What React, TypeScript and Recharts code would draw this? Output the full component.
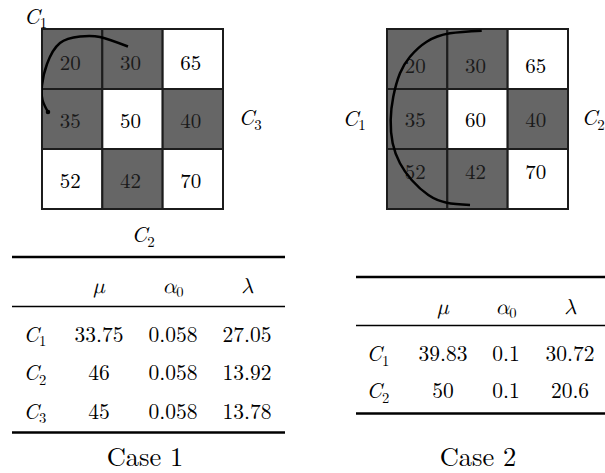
import React from 'react';
import { ScatterChart, Scatter, XAxis, YAxis, ReferenceArea } from 'recharts';

const FONT =
  '"Latin Modern Roman", "CMU Serif", "Computer Modern", "Liberation Serif", "DejaVu Serif", "Noto Serif", "FreeSerif", "Nimbus Roman", "Tinos", "Times New Roman", Times, Georgia, serif';
const GREEK =
  '"CMU Serif", "Latin Modern Math", "STIX Two Math", "STIX Two Text", "STIXGeneral", "DejaVu Serif", "Liberation Serif", "FreeSerif", "Noto Serif", "Latin Modern Roman", serif';

// Grid values (row by row) and which cells are shaded
const case1Values = [
  [20, 30, 65],
  [35, 50, 40],
  [52, 42, 70],
];
const case1Shaded = [
  [1, 1, 0],
  [1, 0, 1],
  [0, 1, 0],
];
const case2Values = [
  [20, 30, 65],
  [35, 60, 40],
  [52, 42, 70],
];
const case2Shaded = [
  [1, 1, 0],
  [1, 0, 1],
  [1, 1, 0],
];

// Arc traced over the grid (grid units: column, row)
const case1Arc = [
  { x: 1.425, y: 0.292 },
  { x: 0.961, y: 0.133 },
  { x: 0.63, y: 0.125 },
  { x: 0.298, y: 0.233 },
  { x: 0.083, y: 0.583 },
  { x: 0.0, y: 0.933 },
  { x: 0.008, y: 1.183 },
  { x: 0.099, y: 1.383, dot: true },
];
const case2Arc = [
  { x: 1.57, y: 0.028 },
  { x: 1.044, y: 0.072 },
  { x: 0.658, y: 0.212 },
  { x: 0.381, y: 0.462 },
  { x: 0.215, y: 0.738 },
  { x: 0.104, y: 1.128 },
  { x: 0.061, y: 1.517 },
  { x: 0.094, y: 1.905 },
  { x: 0.215, y: 2.238 },
  { x: 0.409, y: 2.517 },
  { x: 0.685, y: 2.767 },
  { x: 0.99, y: 2.895 },
  { x: 1.376, y: 2.933 },
];

// Table data
const case1RowLabels = ['1', '2', '3'];
const case1Mu = [33.75, 46, 45];
const case1Alpha = [0.058, 0.058, 0.058];
const case1Lambda = [27.05, 13.92, 13.78];

const case2RowLabels = ['1', '2'];
const case2Mu = [39.83, 50];
const case2Alpha = [0.1, 0.1];
const case2Lambda = [30.72, 20.6];

const captions = ['Case 1', 'Case 2'];

const serif = (size: number, italic = false, family = FONT): React.CSSProperties => ({
  fontFamily: family,
  fontSize: size,
  fontStyle: italic ? 'italic' : 'normal',
});

type GridProps = {
  values: number[][];
  shaded: number[][];
  arc: { x: number; y: number; dot?: boolean }[];
  labelDy: number[];
};

function Grid({ values, shaded, arc, labelDy }: GridProps) {
  const cells = values.flatMap((row, r) =>
    row.map((v, c) => ({ x: c + 0.5, y: r + 0.5, c, r, v, dark: shaded[r][c] === 1 }))
  );
  return (
    <ScatterChart width={260} height={240} margin={{ top: 29, left: 42, right: 37, bottom: 31 }}>
      <XAxis type="number" dataKey="x" domain={[0, 3]} hide allowDataOverflow />
      <YAxis type="number" dataKey="y" domain={[0, 3]} reversed hide allowDataOverflow />
      {cells.map((cell) => (
        <ReferenceArea
          key={`a${cell.r}-${cell.c}`}
          x1={cell.c}
          x2={cell.c + 1}
          y1={cell.r}
          y2={cell.r + 1}
          fill={cell.dark ? '#666666' : '#ffffff'}
          fillOpacity={1}
          stroke="#1c1c1c"
          strokeWidth={2}
          strokeOpacity={1}
        />
      ))}
      <Scatter
        data={cells}
        isAnimationActive={false}
        shape={(p: any) => (
          <text
            x={p.cx - 2}
            y={p.cy + 7 + labelDy[p.payload.r]}
            textAnchor="middle"
            style={serif(21)}
            fill={p.payload.dark ? '#1a1a1a' : '#000'}
          >
            {p.payload.v}
          </text>
        )}
      />
      <Scatter
        data={arc}
        isAnimationActive={false}
        fill="none"
        line={{ stroke: '#000', strokeWidth: 2.5, fill: 'none' }}
        lineType="joint"
        lineJointType="natural"
        shape={(p: any) =>
          p.payload.dot ? <circle cx={p.cx} cy={p.cy} r={2.3} fill="#000" /> : <g />
        }
      />
    </ScatterChart>
  );
}

const Sym = ({ x, y, base, sub, size = 22 }: { x: number; y: number; base: string; sub: string; size?: number }) => (
  <text x={x} y={y} style={serif(size)} fill="#000">
    <tspan style={serif(size, true)}>{base}</tspan>
    <tspan style={serif(size * 0.68)} dy={4.5}>
      {sub}
    </tspan>
  </text>
);

type TableProps = {
  x0: number;
  x1: number;
  cols: number[];
  rowLabelX: number;
  rules: number[];
  headerY: number;
  rowYs: number[];
  labels: string[];
  mu: number[];
  alpha: number[];
  lambda: number[];
};

function Table({ x0, x1, cols, rowLabelX, rules, headerY, rowYs, labels, mu, alpha, lambda }: TableProps) {
  const fs = 21.5;
  return (
    <g>
      <line x1={x0} x2={x1} y1={rules[0]} y2={rules[0]} stroke="#000" strokeWidth={2.6} />
      <line x1={x0} x2={x1} y1={rules[1]} y2={rules[1]} stroke="#000" strokeWidth={1.7} />
      <line x1={x0} x2={x1} y1={rules[2]} y2={rules[2]} stroke="#000" strokeWidth={2.6} />
      <text x={cols[0]} y={headerY} textAnchor="middle" style={serif(fs, true, GREEK)}>
        μ
      </text>
      <text x={cols[1]} y={headerY} textAnchor="middle" style={serif(fs)}>
        <tspan style={serif(fs, true, GREEK)}>α</tspan>
        <tspan style={serif(fs * 0.68)} dy={4}>
          0
        </tspan>
      </text>
      <text x={cols[2]} y={headerY} textAnchor="middle" style={serif(fs, true, GREEK)}>
        λ
      </text>
      {labels.map((lab, i) => (
        <g key={lab}>
          <Sym x={rowLabelX} y={rowYs[i]} base="C" sub={lab} size={fs} />
          <text x={cols[0]} y={rowYs[i]} textAnchor="middle" style={serif(fs)}>
            {mu[i]}
          </text>
          <text x={cols[1]} y={rowYs[i]} textAnchor="middle" style={serif(fs)}>
            {alpha[i]}
          </text>
          <text x={cols[2]} y={rowYs[i]} textAnchor="middle" style={serif(fs)}>
            {lambda[i]}
          </text>
        </g>
      ))}
    </g>
  );
}

export default function App() {
  return (
    <div style={{ position: 'absolute', left: 0, top: 0, width: 605, height: 473, background: '#fff', overflow: 'hidden', fontFamily: FONT }}>
      <div style={{ position: 'absolute', left: 0, top: 0 }}>
        <Grid values={case1Values} shaded={case1Shaded} arc={case1Arc} labelDy={[3.5, 1.5, 1.5]} />
      </div>
      <div style={{ position: 'absolute', left: 345, top: 0 }}>
        <Grid values={case2Values} shaded={case2Shaded} arc={case2Arc} labelDy={[7, 1, -7]} />
      </div>
      <svg width={605} height={473} style={{ position: 'absolute', left: 0, top: 0, pointerEvents: 'none' }}>
        <Sym x={24} y={23.5} base="C" sub="1" />
        <Sym x={238.5} y={125} base="C" sub="3" />
        <Sym x={131.5} y={242} base="C" sub="2" />
        <Sym x={342.5} y={125.5} base="C" sub="1" />
        <Sym x={581.5} y={125} base="C" sub="2" />
        <Table
          x0={12}
          x1={285}
          cols={[99, 173, 247]}
          rowLabelX={23.5}
          rules={[257, 306.5, 432.5]}
          headerY={293}
          rowYs={[341.5, 380, 418.5]}
          labels={case1RowLabels}
          mu={case1Mu}
          alpha={case1Alpha}
          lambda={case1Lambda}
        />
        <Table
          x0={356}
          x1={605}
          cols={[443, 506, 570]}
          rowLabelX={366.5}
          rules={[277, 325.5, 413.5]}
          headerY={314}
          rowYs={[361, 398]}
          labels={case2RowLabels}
          mu={case2Mu}
          alpha={case2Alpha}
          lambda={case2Lambda}
        />
        <text x={145} y={465.5} textAnchor="middle" style={serif(26.5)}>
          {captions[0]}
        </text>
        <text x={478} y={465.5} textAnchor="middle" style={serif(26.5)}>
          {captions[1]}
        </text>
      </svg>
    </div>
  );
}
